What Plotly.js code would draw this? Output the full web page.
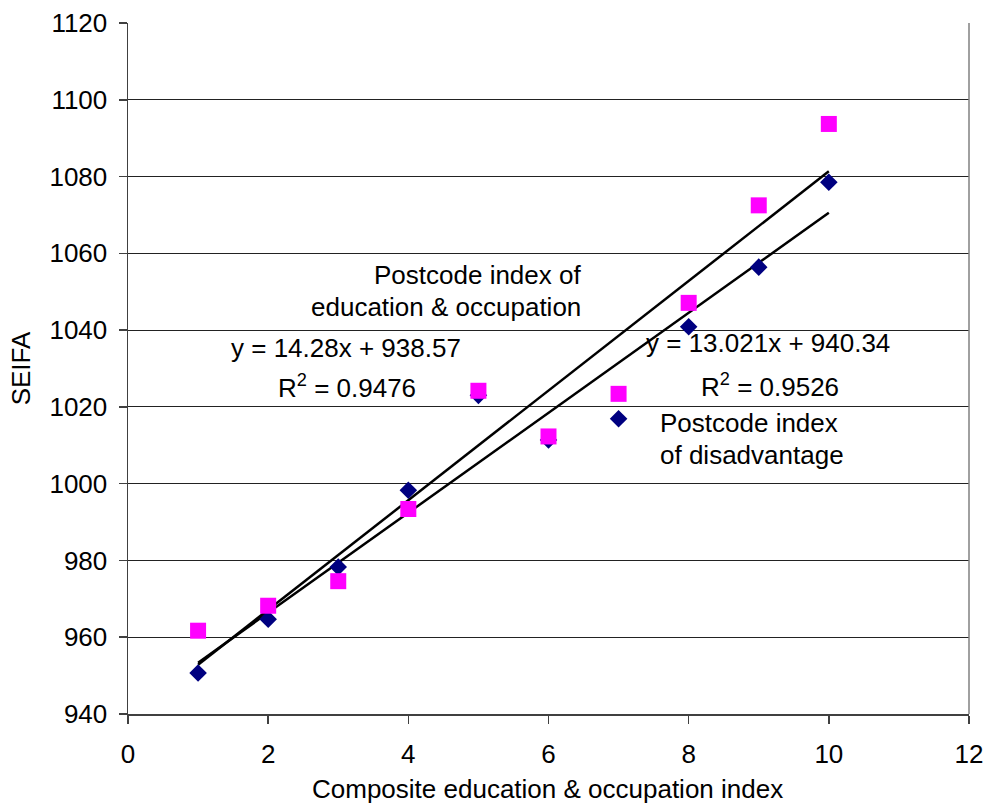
<!DOCTYPE html>
<html>
<head>
<meta charset="utf-8">
<script src="https://cdn.plot.ly/plotly-3.0.1.min.js"></script>
<style>html,body{margin:0;padding:0;background:#fff;}#chart{width:986px;height:809px;}</style>
</head>
<body>
<div id="chart"></div>
<script>
// Data
var composite = [1, 2, 3, 4, 5, 6, 7, 8, 9, 10];
var disadvantage = [950.7, 964.7, 978.3, 998.3, 1023.0, 1011.4, 1016.9, 1040.9, 1056.4, 1078.5];
var educationOccupation = [961.7, 968.2, 974.6, 993.4, 1024.2, 1012.3, 1023.4, 1047.1, 1072.5, 1093.7];
var trendSlopes = [14.28, 13.021];
var trendIntercepts = [938.57, 940.34];
var trendRange = [1, 10];
var yTicks = [940, 960, 980, 1000, 1020, 1040, 1060, 1080, 1100, 1120];
var xTicks = [0, 2, 4, 6, 8, 10, 12];

var FONT = 'Liberation Sans, Arial, sans-serif';
var FS = 26;

function trendTrace(i) {
  return {
    x: trendRange,
    y: trendRange.map(function (v) { return trendSlopes[i] * v + trendIntercepts[i]; }),
    mode: 'lines', type: 'scatter', showlegend: false, hoverinfo: 'skip',
    line: {color: '#000000', width: 2.5}
  };
}

var traces = [
  trendTrace(0),
  trendTrace(1),
  {
    x: composite, y: disadvantage, mode: 'markers', type: 'scatter',
    name: 'Postcode index of disadvantage', showlegend: false,
    marker: {symbol: 'diamond', size: 13.5, color: '#000080'}
  },
  {
    x: composite, y: educationOccupation, mode: 'markers', type: 'scatter',
    name: 'Postcode index of education & occupation', showlegend: false,
    marker: {symbol: 'square', size: 16, color: '#FF00FF'}
  }
];

function ann(text, x, y, xanchor) {
  return {text: text, x: x, y: y, xref: 'x', yref: 'y', xanchor: xanchor, yanchor: 'middle',
          showarrow: false, font: {family: FONT, size: FS, color: '#000'}};
}

var layout = {
  width: 986, height: 809,
  margin: {l: 128, r: 17, t: 23, b: 95, pad: 0},
  paper_bgcolor: '#ffffff', plot_bgcolor: '#ffffff',
  font: {family: FONT, size: FS, color: '#000'},
  showlegend: false,
  xaxis: {
    range: [0, 12], tickmode: 'array', tickvals: xTicks, ticktext: xTicks.map(String),
    showgrid: false, zeroline: false,
    showline: true, linecolor: '#404040', linewidth: 1.5,
    ticks: 'outside', ticklen: 8, tickcolor: '#404040', tickwidth: 1.5,
    ticklabelstandoff: 8,
    tickfont: {family: FONT, size: FS, color: '#000'}
  },
  yaxis: {
    range: [940, 1120], tickmode: 'array', tickvals: yTicks, ticktext: yTicks.map(String),
    showgrid: true, gridcolor: '#222222', gridwidth: 1, zeroline: false,
    showline: true, linecolor: '#404040', linewidth: 1.5,
    ticks: 'outside', ticklen: 8, tickcolor: '#404040', tickwidth: 1.5,
    ticklabelstandoff: 6,
    tickfont: {family: FONT, size: FS, color: '#000'},
    title: {text: 'SEIFA', font: {family: FONT, size: FS, color: '#000'}, standoff: 11}
  },
  shapes: [
    {type: 'line', xref: 'paper', yref: 'paper', x0: 1, x1: 1, y0: 0, y1: 1,
     line: {color: '#808080', width: 1.5}}
  ],
  annotations: [
    {text: 'Composite education &amp; occupation index', xref: 'paper', yref: 'paper',
     x: 0.4988, y: -0.108, xanchor: 'center', yanchor: 'middle', showarrow: false,
     font: {family: FONT, size: FS, color: '#000'}},
    ann('Postcode index of', 6.494, 1054.3, 'right'),
    ann('education &amp; occupation', 6.494, 1046.0, 'right'),
    ann('y = 14.28x + 938.57', 3.114, 1035.3, 'center'),
    ann('R<sup>2</sup> = 0.9476', 3.128, 1025.2, 'center'),
    ann('y = 13.021x + 940.34', 9.133, 1036.6, 'center'),
    ann('R<sup>2</sup> = 0.9526', 9.16, 1025.7, 'center'),
    ann('Postcode index', 7.564, 1015.8, 'left'),
    ann('of disadvantage', 7.564, 1007.5, 'left')
  ]
};

Plotly.newPlot('chart', traces, layout, {displayModeBar: false, staticPlot: true});
</script>
</body>
</html>
